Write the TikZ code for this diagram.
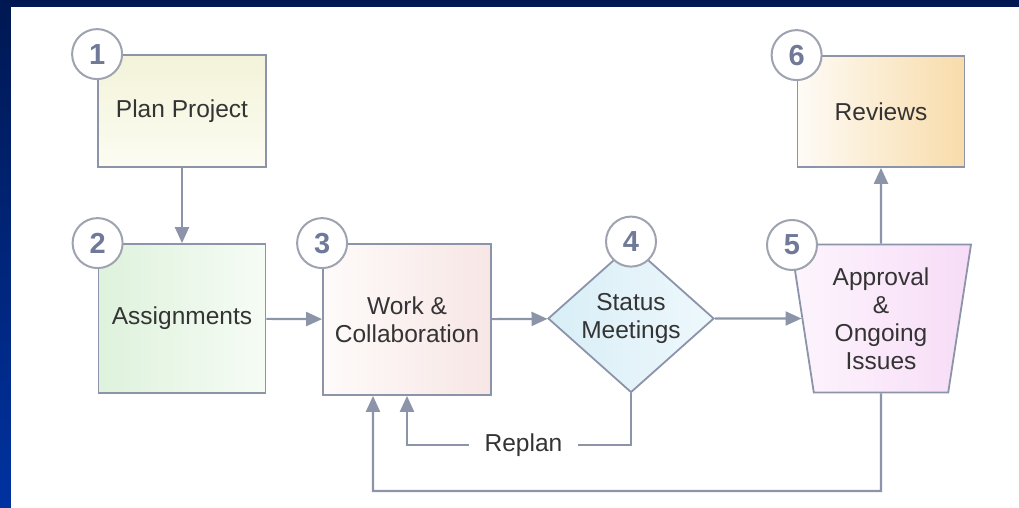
\documentclass[tikz,border=0pt]{standalone}
\usepackage{fontspec}
\setmainfont{Liberation Sans}
\usepackage{tikz}
\usetikzlibrary{shapes.geometric,arrows.meta,positioning,calc}
\definecolor{navytop}{RGB}{0,24,82}
\definecolor{navybot}{RGB}{0,50,160}
\definecolor{edgegray}{RGB}{140,148,170}
\definecolor{ringgray}{RGB}{158,163,176}
\definecolor{numgray}{RGB}{112,122,152}
\definecolor{txtgray}{RGB}{52,52,52}
\definecolor{yel1}{RGB}{243,243,218}
\definecolor{yel2}{RGB}{252,252,242}
\definecolor{grn1}{RGB}{222,242,220}
\definecolor{grn2}{RGB}{246,252,245}
\definecolor{pnk1}{RGB}{254,251,250}
\definecolor{pnk2}{RGB}{247,230,229}
\definecolor{blu1}{RGB}{216,238,246}
\definecolor{blu2}{RGB}{238,248,252}
\definecolor{trp1}{RGB}{253,245,253}
\definecolor{trp2}{RGB}{247,220,247}
\definecolor{org1}{RGB}{254,251,246}
\definecolor{org2}{RGB}{248,220,170}

\begin{document}
\begin{tikzpicture}[x=1pt,y=-1pt,
    stepbox/.style={draw=edgegray,line width=1.8pt,inner sep=0pt,align=center,
        text=txtgray,font=\fontsize{24.5}{28}\selectfont},
    numring/.style={circle,draw=ringgray,line width=2pt,fill=white,minimum size=50pt,
        inner sep=0pt,text=numgray,font=\bfseries\fontsize{29}{29}\selectfont},
    flow/.style={draw=edgegray,line width=2.2pt,-{Triangle[length=16pt,width=14pt]}}]
            % background
            \useasboundingbox (0,0) rectangle (1019,508);
            \fill[top color=navytop,bottom color=navybot] (0,0) rectangle (1019,508);
            \fill[white] (11,7) rectangle (1019,508);
            % steps
            \node[stepbox,minimum width=168pt,minimum height=112pt,
            top color=yel1,bottom color=yel2](s1) at (182,111) {Plan Project};
            \node[stepbox,minimum width=167pt,minimum height=149pt,
            left color=grn1,right color=grn2](s2) at (182,318.5) {Assignments};
            \node[stepbox,minimum width=168pt,minimum height=151pt,
            left color=pnk1,right color=pnk2](s3) at (407,319.5) {Work \&\\Collaboration};
            \node[stepbox,diamond,aspect=1.12,minimum width=166pt,minimum height=148pt,
            left color=blu1,right color=blu2](s4) at (631,318.5) {Status\\Meetings};
            \node[stepbox,trapezium,trapezium angle=77.4,trapezium stretches body=true,
            shape border rotate=180,minimum width=180pt,minimum height=148pt,
            left color=trp1,right color=trp2](s5) at (881,318.5) {Approval\\\&\\Ongoing\\Issues};
            \node[stepbox,minimum width=167pt,minimum height=111pt,
            left color=org1,right color=org2](s6) at (881,111.5) {Reviews};
            % connectors
            \draw[flow] (s1) -- (s2);
            \draw[flow] (s2) -- (s3);
            \draw[flow] (s3) -- (s4);
            \draw[flow] (s4) -- (s5);
            \draw[flow] (s5) -- (s6);
            \coordinate (rp) at (631,445);
            \draw[flow] (s4.south) -- (rp) -| node[pos=0.24,fill=white,inner xsep=16pt,
            text=txtgray,font=\fontsize{24.5}{28}\selectfont]{Replan} (s3.south);
            \coordinate (fb) at (881,491);
            \draw[flow] (s5) -- (fb) -| ($(s3.south)+(-34,0)$);
            % numbers
            \node[numring](c1) at (s1.north west) {1};
            \node[numring](c2) at (s2.north west) {2};
            \node[numring](c3) at (s3.north west) {3};
            \node[numring](c4) at ($(s4.north)+(0,-2)$) {4};
            \node[numring](c5) at (792,245) {5};
            \node[numring](c6) at (s6.north west) {6};
        \end{tikzpicture}
\end{document}
